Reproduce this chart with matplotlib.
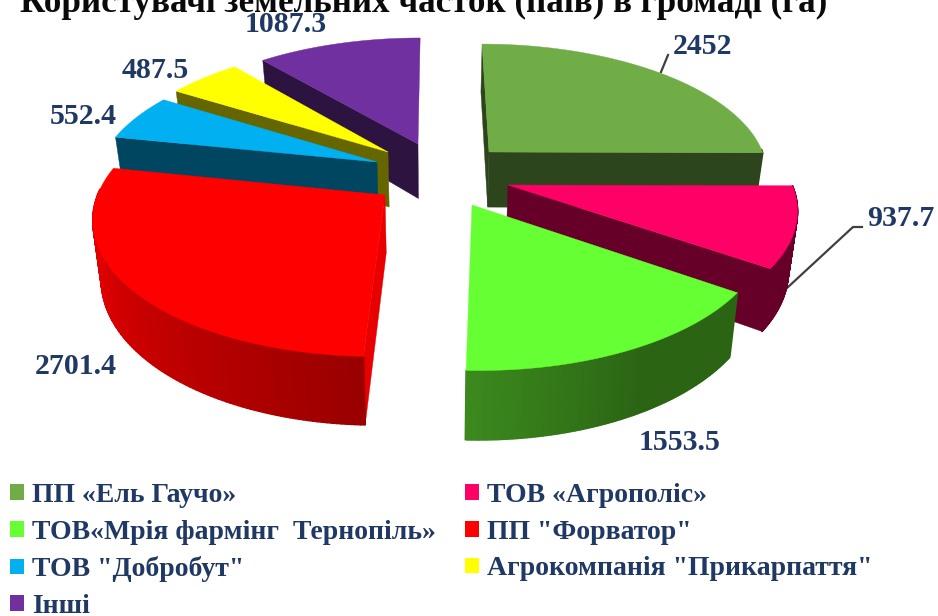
import numpy as np
import matplotlib
matplotlib.use("Agg")
import matplotlib.pyplot as plt
from matplotlib.patches import Polygon, Patch
from matplotlib.collections import PolyCollection
from matplotlib.colors import to_rgb

# ---- data ----
title = "Користувачі земельних часток (паїв) в громаді (га)"
categories = ['ПП «Ель Гаучо»', 'ТОВ «Агрополіс»', 'ТОВ«Мрія фармінг  Тернопіль»',
              'ПП "Форватор"', 'ТОВ "Добробут"', 'Агрокомпанія "Прикарпаття"', 'Інші']
values = [2452, 937.7, 1553.5, 2701.4, 552.4, 487.5, 1087.3]
value_labels = ['2452', '937.7', '1553.5', '2701.4', '552.4', '487.5', '1087.3']

# ---- style ----
top_colors = ['#70AD47', '#FF0066', '#66FF33', '#FF0000', '#00B0F0', '#FFFF00', '#7030A0']
side_colors = ['#2D451C', '#660028', '#2B6514', '#990000', '#004660', '#666600', '#2D1340']
rim_light = [None, None, '#3C8A1E', '#E00000', None, None, None]
label_pos = [(702, 46), (901, 219), (680, 443), (76, 366), (83, 116), (155, 71), (286, 24)]
apex_px = [(489, 152), (508, 185), (472, 205), (385, 195), (377, 162), (388, 152), (418, 144)]
draw_order = [6, 5, 4, 0, 1, 3, 2]
CX, CY, K, P, R, DEPTH = 435.0, 166.0, 0.46, 0.15 / 280, 278.0, 56.0
NAVY = '#1F3864'
SERIF = 'Liberation Serif'


def project(X, Y, Z=0.0):
    """World plane (X right, Y back, Z depth below) to figure pixels."""
    S = 1 / (1 + P * Y)
    return CX + X * S * (1 - 0.025 * Z), CY - K * Y * S + DEPTH * Z * S


def unproject(sx, sy):
    a = (CY - sy) / K
    Y = a / (1 - P * a)
    X = (sx - CX) * (1 + P * Y)
    return X, Y


fig = plt.figure(figsize=(9.38, 6.16), dpi=100, facecolor='white')
ax = fig.add_axes([0, 0, 1, 1])
ax.set_xlim(0, 938)
ax.set_ylim(616, 0)
ax.axis('off')

edges = np.concatenate([[0], np.cumsum(values)]) / np.sum(values) * 2 * np.pi

for i in draw_order:
    ax0, ay0 = unproject(*apex_px[i])
    t = np.linspace(edges[i], edges[i + 1], 120)
    wx, wy = ax0 + R * np.sin(t), ay0 + R * np.cos(t)
    tx, ty = project(wx, wy, 0)
    bx, by = project(wx, wy, 1)
    apx, apy = project(ax0, ay0, 0)
    abx, aby = project(ax0, ay0, 1)
    side = side_colors[i]
    # radial cut faces: only those facing the viewer (first slice's start shows as a sliver)
    faces = []
    if np.sin(edges[i]) < -1e-9 or i == 0:
        faces.append(0)
    if np.sin(edges[i + 1]) > 1e-9:
        faces.append(-1)
    for k in faces:
        fc = '#E80000' if (i == 3 and k == 0) else side
        ax.add_patch(Polygon([(apx, apy), (tx[k], ty[k]), (bx[k], by[k]), (abx, aby)],
                             closed=True, fc=fc, ec=fc, lw=0.3, zorder=2))
    # front part of the rim, optionally with a gradient
    frac = (t - edges[i]) / (edges[i + 1] - edges[i])
    quads, cols = [], []
    for j in range(len(t) - 1):
        if np.cos(t[j]) > 0.03:
            continue
        quads.append([(tx[j], ty[j]), (tx[j + 1], ty[j + 1]), (bx[j + 1], by[j + 1]), (bx[j], by[j])])
        if rim_light[i] is None:
            cols.append(side)
        else:
            c0, c1 = np.array(to_rgb(rim_light[i])), np.array(to_rgb(side))
            v = np.clip((frac[j] - 0.45) / 0.55, 0, 1) if i == 2 else np.clip(frac[j] / 0.7, 0, 1)
            cols.append(tuple(c1 + (c0 - c1) * v))
    if quads:
        ax.add_collection(PolyCollection(quads, facecolors=cols, edgecolors=cols, linewidths=1.2,
                                         zorder=2))
    # top face
    ax.add_patch(Polygon(np.column_stack([np.r_[apx, tx], np.r_[apy, ty]]), closed=True,
                         fc=top_colors[i], ec=top_colors[i], lw=0.3, zorder=2))

# leader lines
ax.plot([661, 668], [72, 55], color='#404040', lw=1.6, zorder=1)
ax.plot([787, 853, 862], [288, 227, 227], color='#404040', lw=1.6, zorder=1)

# value labels
for (x, y), s in zip(label_pos, value_labels):
    ax.text(x, y, s, ha='center', va='center', fontsize=21.5, fontweight='bold',
            family=SERIF, color=NAVY, zorder=5)

# title, cut by the top edge as in the reference
ax.text(424, 12, title, ha='center', va='baseline', fontsize=25.3, fontweight='bold',
        family=SERIF, color='#0A0A0A', zorder=5, clip_on=False)

# legend
order = [0, 2, 4, 6, 1, 3, 5]
handles = [Patch(fc=top_colors[j], ec='none', label=categories[j]) for j in order]
ax.legend(handles=handles, ncol=2, loc='lower left', bbox_to_anchor=(4.4 / 938, -0.014),
          frameon=False, prop={'family': SERIF, 'weight': 'bold', 'size': 20},
          labelcolor=NAVY, handlelength=0.5, handleheight=0.5, handletextpad=0.29,
          labelspacing=0.42, columnspacing=1.05, borderpad=0.2, borderaxespad=0)

fig.savefig('out.png', dpi=100)
